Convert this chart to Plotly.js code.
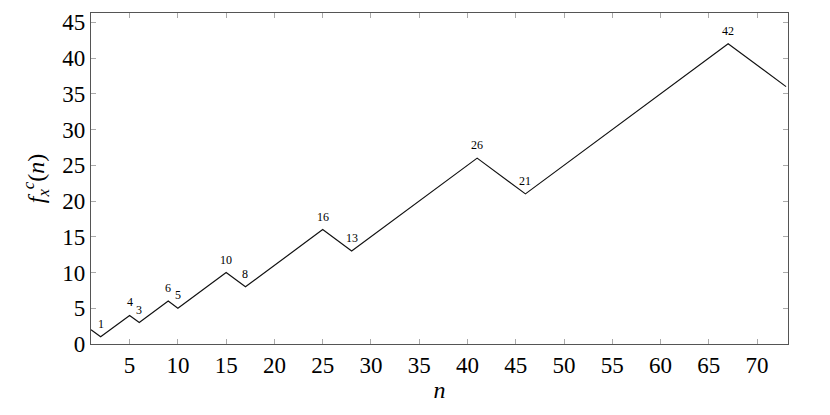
<!DOCTYPE html>
<html>
<head>
<meta charset="utf-8">
<script src="https://cdn.plot.ly/plotly-3.0.1.min.js"></script>
<style>html,body{margin:0;padding:0;background:#fff;}#chart{width:830px;height:415px;}</style>
</head>
<body>
<div id="chart"></div>
<script>
// Data
const nValues = [1, 2, 5, 6, 9, 10, 15, 17, 25, 28, 41, 46, 67, 73];
const fValues = [2, 1, 4, 3, 6, 5, 10, 8, 16, 13, 26, 21, 42, 36];
// indices of points carrying a value label
const labelIdx = [1, 2, 3, 4, 5, 6, 7, 8, 9, 10, 11, 12];
const xTicks = [5, 10, 15, 20, 25, 30, 35, 40, 45, 50, 55, 60, 65, 70];
const yTicks = [0, 5, 10, 15, 20, 25, 30, 35, 40, 45];

const serif = '"Liberation Serif", "DejaVu Serif", serif';

const annotations = labelIdx.map(i => ({
  x: nValues[i], y: fValues[i], xref: 'x', yref: 'y',
  text: String(fValues[i]), showarrow: false,
  yshift: 13, font: {family: serif, size: 12, color: '#000'}
}));

const trace = {
  x: nValues, y: fValues, mode: 'lines', type: 'scatter',
  line: {color: '#111', width: 1.2}, hoverinfo: 'none'
};

const axisCommon = {
  showgrid: false, zeroline: false, showline: true, mirror: 'ticks',
  linecolor: '#555', linewidth: 1.2, ticks: 'inside', ticklen: 5,
  tickcolor: '#aaa', tickwidth: 1,
  tickfont: {family: serif, size: 23, color: '#000'}
};

const layout = {
  width: 830, height: 415,
  margin: {l: 91, r: 42, t: 13, b: 71},
  paper_bgcolor: '#fff', plot_bgcolor: '#fff',
  showlegend: false,
  xaxis: Object.assign({}, axisCommon, {
    range: [1, 73.2], tickvals: xTicks, ticktext: xTicks.map(String),
    title: {text: '<i>n</i>', font: {family: serif, size: 24, color: '#000'}, standoff: 4}
  }),
  yaxis: Object.assign({}, axisCommon, {
    range: [0, 46.3], tickvals: yTicks, ticktext: yTicks.map(String),
    title: {text: '<i>f</i><sub><i>x</i></sub><sup><i>c</i></sup>(<i>n</i>)', font: {family: serif, size: 24, color: '#000'}, standoff: 10}
  }),
  annotations: annotations
};

Plotly.newPlot('chart', [trace], layout, {staticPlot: true, displayModeBar: false});
</script>
</body>
</html>
